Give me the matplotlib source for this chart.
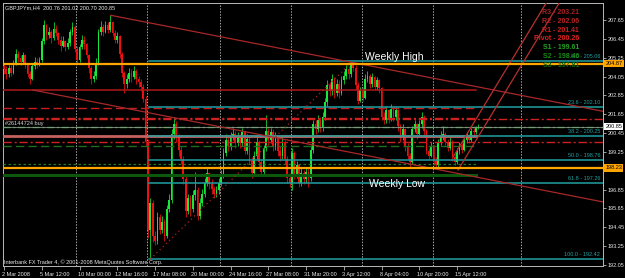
"""GBPJPYm H4 (Mar-Apr 2008) MetaTrader screenshot: candles, pivots, fib, weekly levels."""

import matplotlib

matplotlib.use("Agg")
import matplotlib.pyplot as plt
from matplotlib.transforms import ScaledTranslation, blended_transform_factory
import numpy as np

plt.rcParams["font.family"] = ["Liberation Sans", "DejaVu Sans"]

# ---- data -------------------------------------------------------------
# H4 bars; each open is the previous close
first_open = 204.70
closes = [
    204.5, 204.2, 204.6, 204.3, 204.9, 205.5, 205.2, 205.0, 205.4, 204.8,
    204.2, 203.9, 204.7, 205.0, 204.8, 205.1, 206.3, 207.3, 206.7, 206.9,
    206.5, 207.1, 206.8, 206.4, 206.0, 206.3, 205.9, 206.2, 206.9, 207.2,
    205.8, 205.1, 205.9, 206.4, 206.1, 205.4, 204.6, 203.9, 204.1, 204.9,
    206.9, 207.2, 206.9, 207.3, 207.0, 207.5, 206.8, 206.4, 206.6, 205.5,
    204.3, 203.6, 203.9, 204.3, 204.0, 204.4, 203.9, 203.7, 203.4, 202.6,
    199.9, 194.3, 196.0, 193.9, 193.6, 195.1, 194.3, 194.8, 193.9, 195.6,
    196.2, 200.4, 201.0, 200.2, 199.4, 198.8, 197.5, 195.5, 196.3, 195.6,
    196.5, 196.8, 195.2, 196.0, 196.6, 197.3, 197.9, 197.2, 196.9, 196.6,
    196.8, 197.3, 197.8, 199.2, 200.0, 199.6, 200.2, 200.4, 199.8, 200.2,
    199.8, 200.5, 199.3, 200.1, 198.7, 197.9, 199.0, 199.9, 198.6, 198.0,
    199.5, 200.6, 200.0, 200.5, 199.6, 200.2, 199.3, 199.0, 199.9, 198.8,
    197.6, 197.3, 199.2, 197.8, 198.4, 197.3, 197.9, 197.5, 198.0, 197.6,
    199.4, 201.0, 200.7, 201.3, 200.8, 201.5, 202.4, 203.5, 203.1, 203.9,
    203.0, 203.6, 203.0, 203.8, 204.1, 204.5, 204.2, 204.9, 204.6, 203.5,
    202.5, 203.2, 202.7, 203.9, 204.1, 203.6, 204.0, 203.4, 203.8, 203.3,
    201.5, 201.3, 201.9, 201.4, 202.0, 201.5, 201.9, 200.9, 200.2, 200.7,
    199.6, 199.0, 198.6, 200.7, 201.0, 200.4, 201.0, 201.5, 200.6, 199.3,
    199.0, 199.6, 198.7, 198.4, 199.9, 200.2, 200.4, 199.9, 199.5, 199.9,
    198.9, 198.6, 199.3, 199.7, 199.4, 200.0, 200.3, 200.0, 200.6, 200.5,
    200.76, 200.85,
]
highs = [
    204.9, 204.7, 204.8, 204.8, 205.1, 205.8, 205.7, 205.4, 205.6, 205.5,
    204.9, 204.4, 204.9, 205.3, 205.2, 205.3, 206.5, 207.65, 207.4, 207.2,
    207.0, 207.5, 207.3, 206.9, 206.6, 206.6, 206.4, 206.5, 207.1, 207.5,
    207.3, 206.0, 206.1, 206.7, 206.6, 206.2, 205.5, 204.7, 204.4, 205.2,
    207.1, 207.6, 207.4, 207.6, 207.5, 207.95, 207.6, 207.0, 206.9, 206.7,
    205.6, 204.4, 204.2, 204.6, 204.5, 204.7, 204.5, 204.1, 203.9, 203.6,
    202.8, 200.1, 196.3, 196.2, 194.2, 195.4, 195.3, 195.2, 195.0, 195.9,
    196.6, 200.7, 201.5, 201.2, 200.4, 199.6, 199.0, 197.7, 196.6, 196.5,
    196.8, 198.0, 197.0, 196.3, 196.9, 197.6, 198.2, 198.0, 197.5, 197.1,
    197.1, 197.6, 198.1, 199.5, 200.4, 200.3, 200.5, 200.8, 200.6, 200.5,
    200.4, 200.8, 200.6, 200.4, 200.3, 198.9, 199.3, 200.2, 200.0, 198.8,
    199.7, 201.6, 200.8, 200.8, 200.7, 200.5, 200.3, 199.6, 200.3, 200.0,
    199.0, 197.9, 199.5, 199.3, 198.7, 198.5, 198.2, 198.1, 198.3, 198.2,
    199.7, 201.3, 201.3, 201.6, 201.5, 201.8, 202.7, 203.8, 203.7, 204.2,
    204.0, 203.9, 203.8, 204.1, 204.4, 204.8, 204.7, 205.06, 205.0, 204.8,
    203.7, 203.4, 203.4, 204.2, 204.4, 204.2, 204.3, 204.1, 204.0, 203.9,
    203.4, 201.8, 202.2, 202.0, 202.3, 202.2, 202.1, 202.0, 201.0, 201.0,
    200.8, 199.8, 199.2, 200.9, 201.3, 201.1, 201.3, 201.8, 201.6, 200.7,
    199.5, 199.9, 199.7, 198.9, 200.1, 200.6, 200.9, 200.5, 200.1, 200.2,
    200.0, 199.1, 199.5, 199.9, 199.8, 200.2, 200.5, 200.4, 200.8, 200.8,
    200.9, 201.02,
]
lows = [
    204.2, 203.9, 204.0, 204.1, 204.2, 204.8, 205.0, 204.8, 204.9, 204.6,
    204.0, 203.6, 203.8, 204.5, 204.6, 204.7, 205.0, 206.1, 206.4, 206.5,
    206.2, 206.4, 206.6, 206.1, 205.7, 205.9, 205.7, 205.8, 206.0, 206.7,
    205.6, 204.9, 205.0, 205.8, 205.8, 205.2, 204.3, 203.6, 203.7, 203.9,
    204.8, 206.7, 206.6, 206.8, 206.8, 206.9, 206.6, 206.2, 206.2, 205.2,
    204.0, 203.0, 203.3, 203.7, 203.7, 203.9, 203.6, 203.4, 203.1, 202.4,
    199.6, 193.8, 192.42, 193.5, 193.3, 193.4, 194.0, 194.1, 193.6, 193.8,
    195.4, 196.0, 200.1, 199.9, 199.0, 198.5, 197.2, 195.1, 195.3, 195.2,
    195.4, 196.2, 194.9, 195.0, 195.8, 196.4, 197.1, 196.9, 196.6, 196.3,
    196.4, 196.6, 197.1, 197.6, 199.0, 199.3, 199.4, 200.0, 199.5, 199.6,
    199.5, 199.6, 199.1, 199.1, 198.5, 197.6, 197.7, 198.8, 198.3, 197.7,
    197.8, 199.3, 199.7, 199.8, 199.3, 199.4, 199.0, 198.7, 198.8, 198.5,
    197.3, 197.0, 196.8, 197.5, 197.6, 197.0, 197.1, 197.2, 197.3, 197.0,
    197.4, 199.2, 200.4, 200.5, 200.5, 200.6, 201.3, 202.2, 202.8, 202.9,
    202.7, 202.8, 202.7, 202.9, 203.6, 203.9, 203.9, 204.0, 204.4, 203.2,
    202.3, 202.4, 202.5, 202.6, 203.7, 203.3, 203.4, 203.2, 203.2, 203.0,
    201.3, 201.0, 201.1, 201.1, 201.2, 201.2, 201.3, 200.6, 199.9, 200.0,
    199.3, 198.8, 198.2, 198.5, 200.5, 200.1, 200.2, 200.8, 200.3, 199.1,
    198.8, 198.9, 198.4, 198.2, 198.3, 199.7, 200.0, 199.7, 199.3, 199.4,
    198.7, 198.4, 198.5, 199.1, 199.2, 199.3, 199.8, 199.8, 199.9, 200.3,
    200.4, 200.70,
]

date_labels = [
    "2 Mar 2008", "5 Mar 12:00", "10 Mar 00:00", "12 Mar 16:00", "17 Mar 08:00",
    "20 Mar 00:00", "24 Mar 16:00", "27 Mar 08:00", "31 Mar 20:00", "3 Apr 12:00",
    "8 Apr 04:00", "10 Apr 20:00", "15 Apr 12:00",
]
bars_per_label = 16
# 198.05 sits under the weekly-low price box, so the terminal hides it
price_ticks = [192.05, 193.25, 194.45, 195.65, 196.85, 199.25,
               200.45, 201.65, 202.85, 204.05, 205.25, 206.45, 207.65]
week_breaks = [30.5, 60.6, 91.5, 121.6, 151.7, 181.8, 219.0]

pivot_names = ["R3", "R2", "R1", "Pivot", "S1", "S2", "S3"]
pivot_values = [203.21, 202.06, 201.41, 200.26, 199.61, 198.46, 197.81]
pivot_end_bar = 200

fib_levels = [0.0, 23.6, 38.2, 50.0, 61.8, 100.0]
fib_prices = [205.06, 202.10, 200.25, 198.76, 197.26, 192.42]
fib_start_bar = 61.5

weekly_high, weekly_low = 204.87, 198.23
bid = 200.85
order_label, order_price = "#26144724 buy", 200.83
order_tp, order_sl = 201.36, 199.88

# trend lines as (bar, price) anchor pairs
trend_top = [(45.2, 207.95), (254.0, 201.83)]
trend_bottom = [(12.3, 203.19), (254.0, 196.06)]
fib_line = [(62.0, 192.42), (148.0, 205.06)]
channel_a = [(190.3, 198.93), (230.5, 208.92)]
channel_b = [(192.4, 198.10), (236.0, 208.92)]

# ---- layout (pixels of a 625x278 screenshot) ---------------------------
W, H, DPI = 625, 278, 100
BAR_PX, PRICE_PX = 2.36, 15.705


def bx(px):
    return (px - 4) / BAR_PX


def py(pix):
    return 207.65 - (pix - 20) / PRICE_PX


BG, FG, AXC = "black", "#e8e8e8", "#b8b8b8"
TEAL, ORANGE = "#20a0a0", "#ffa500"

fig = plt.figure(figsize=(W / DPI, H / DPI), dpi=DPI, facecolor=BG)
ax = fig.add_axes([3 / W, 12 / H, 600 / W, 263 / H], facecolor=BG)
ax.set_xlim(bx(3), bx(603))
ax.set_ylim(py(266), py(3))
for s in ax.spines.values():
    s.set_color(AXC)
    s.set_linewidth(0.7)

# weekly separators
for wb in week_breaks:
    ax.axvline(wb, color="#a8a8a8", lw=0.7, ls=(0, (1.5, 1.5)), zorder=1)

# candles
c = np.array(closes)
o = np.concatenate([[first_open], c[:-1]])
idx = np.arange(len(c))
up = c >= o
col = np.where(up, "#18e838", "#ee1010")
ax.vlines(idx, lows, highs, colors=col, lw=0.55, zorder=3)
ax.bar(idx, np.maximum(np.abs(c - o), 0.04), bottom=np.minimum(o, c),
       width=0.75, color=col, lw=0, zorder=3)

# pivots
piv_style = {
    "R3": ("#b01a1a", "-", 1.1), "R2": ("#c41e1e", (0, (6, 3)), 1.0),
    "R1": ("#d02020", (0, (6, 2, 1.5, 2)), 1.0), "Pivot": ("#c86060", "-", 2.0),
    "S1": ("#1e6e1e", (0, (6, 3)), 1.0), "S2": ("#1e7e1e", (0, (2, 2)), 0.9),
    "S3": ("#0c580c", "-", 2.2),
}
x0 = ax.get_xlim()[0]
for name, val in zip(pivot_names, pivot_values):
    colr, ls, lw = piv_style[name]
    ax.plot([x0, pivot_end_bar], [val, val], color=colr, ls=ls, lw=lw, zorder=4)

# order lines
ax.axhline(order_tp, color="#d02020", ls=(0, (6, 2, 1.5, 2)), lw=1.0, zorder=4)
ax.axhline(order_sl, color="#d02020", ls=(0, (6, 2, 1.5, 2)), lw=1.0, zorder=4)
ax.axhline(order_price, color="#22b022", ls=(0, (5, 2, 1.5, 2)), lw=1.0, zorder=4)
ax.axhline(bid, color="#909090", lw=0.6, zorder=4)
ax.text(bx(5), py(123), order_label, color="#d8d8d8", fontsize=4, va="center", zorder=6)

# fib levels
x1 = ax.get_xlim()[1]
for lvl, pr in zip(fib_levels, fib_prices):
    ax.plot([fib_start_bar, x1], [pr, pr], color=TEAL, lw=1.1, zorder=4)
    ax.text(bx(600), pr + 0.12, f"{lvl:.1f} - {pr:.2f}", color=TEAL, fontsize=4,
            ha="right", va="bottom", zorder=6)

# weekly high / low
for lvl in (weekly_high, weekly_low):
    ax.axhline(lvl, color=ORANGE, lw=1.6, zorder=5)
ax.text(bx(394.5), py(56.7), "Weekly High", color="white", fontsize=7.5,
        ha="center", va="center", zorder=6)
ax.text(bx(397), py(184), "Weekly Low", color="white", fontsize=7.5,
        ha="center", va="center", zorder=6)

# trend lines
for line, colr, ls in [(trend_top, "#a82828", "-"), (trend_bottom, "#a82828", "-"),
                       (fib_line, "#b02020", (0, (1, 2.5))),
                       (channel_a, "#b83030", "-"), (channel_b, "#b83030", "-")]:
    (xa, ya), (xb, yb) = line
    ax.plot([xa, xb], [ya, yb], color=colr, ls=ls, lw=0.9, zorder=4)

# pivot labels, top right
piv_colors = ["#a82020", "#b82020", "#cc2020", "#e02020", "#22a022", "#188818", "#106410"]
for k, (name, val) in enumerate(zip(pivot_names, pivot_values)):
    ax.text(bx(579), py(12.7 + 8.75 * k), f"{name} - {val:.2f}", color=piv_colors[k],
            fontsize=5, fontweight="bold", ha="right", va="center", zorder=6)

# axes ticks
ax.yaxis.tick_right()
ax.set_yticks(price_ticks)
ax.set_yticklabels([f"{p:.2f}" for p in price_ticks])
ax.tick_params(axis="y", colors=AXC, labelcolor=FG, labelsize=4, length=2, width=0.6, pad=1.5)
ax.set_xticks(np.arange(len(date_labels)) * bars_per_label)
ax.set_xticklabels(date_labels, ha="left")
ax.tick_params(axis="x", colors=AXC, labelcolor=FG, labelsize=4, length=3, width=0.6, pad=1.5)
shift = ScaledTranslation(-2 / DPI, 0, fig.dpi_scale_trans)
for lbl in ax.get_xticklabels():
    lbl.set_transform(lbl.get_transform() + shift)

# price boxes on the right scale
tr = blended_transform_factory(ax.transAxes, ax.transData)
for val, face in [(weekly_high, ORANGE), (bid, "white"), (weekly_low, ORANGE)]:
    ax.text(1.004, val, f"{val:.2f}", transform=tr, color="black", fontsize=4,
            ha="left", va="center", clip_on=False, zorder=7,
            bbox=dict(facecolor=face, edgecolor="none", pad=0.8))

# header and footer
ax.text(bx(5), py(8), f"GBPJPYm,H4  {o[-1]:.2f} {highs[-1]:.2f} {lows[-1]:.2f} {c[-1]:.2f}",
        color=FG, fontsize=4, va="center", zorder=6)
ax.text(bx(4), py(262), "Interbank FX Trader 4, \u00a9 2001-2008 MetaQuotes Software Corp.",
        color=FG, fontsize=4, va="center", zorder=6)

fig.savefig("out.png", dpi=DPI, facecolor=BG)
